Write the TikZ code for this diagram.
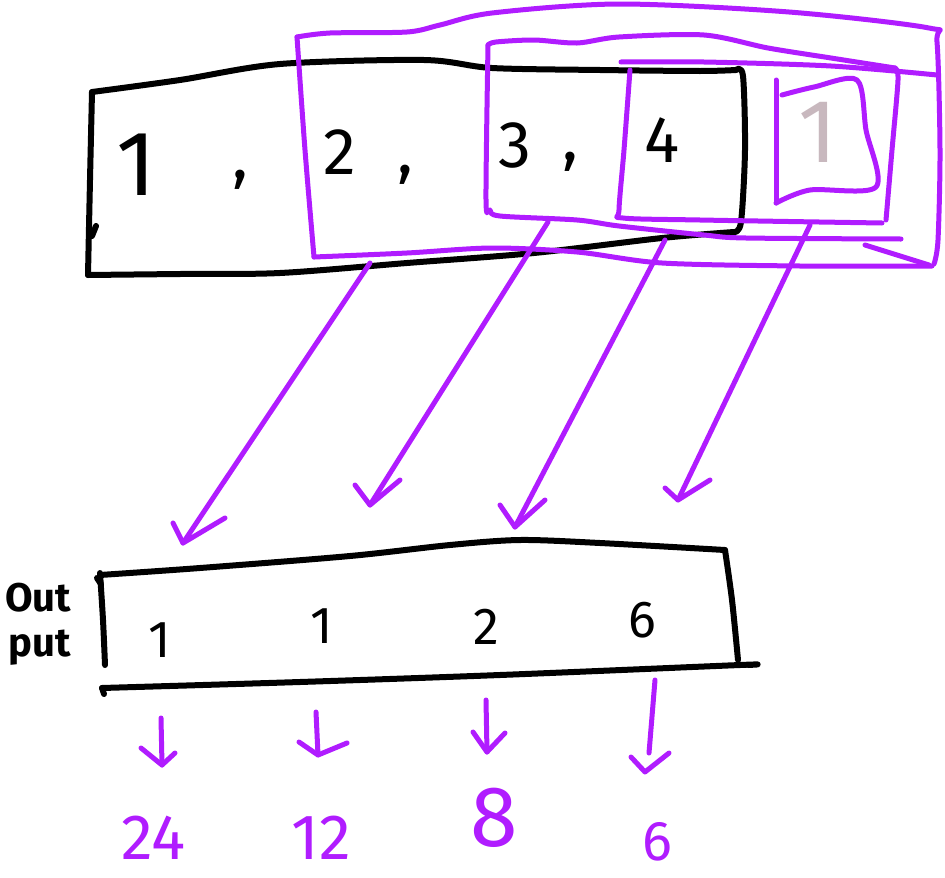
\documentclass[tikz,border=0pt]{standalone}
\usepackage{fontspec}
\setmainfont{Fira Sans}
\definecolor{pp}{RGB}{176,28,255}
\definecolor{pale}{RGB}{200,184,190}
\begin{document}
\begin{tikzpicture}[x=1pt,y=-1pt,line cap=round,line join=round,
  blk/.style={draw=black,line width=6pt},
  pur/.style={draw=pp,line width=5pt},
  bigdig/.style={inner sep=0pt,font=\fontsize{66}{66}\selectfont},
  outdig/.style={inner sep=0pt,font=\fontsize{52}{52}\selectfont},
  resdig/.style={inner sep=0pt,text=pp,font=\fontsize{64}{64}\selectfont},
  lbl/.style={inner sep=0pt,font=\fontsize{40}{40}\selectfont\bfseries}]
\useasboundingbox (0,0) rectangle (945,878);
\fill[white] (0,0) rectangle (945,878);

% ---------- input box (black)
\draw[blk] plot[smooth] coordinates {(92,92)(180,80)(280,64)(424,60)(492,68)(600,70)(700,71)(736,70)};
\draw[blk] plot[smooth] coordinates {(736,70)(743,76)(745,150)(741,222)(734,232)};
\draw[blk] plot[smooth] coordinates {(734,232)(662,238)(534,253)(407,263)(280,273)(180,274)(88,275)};
\draw[blk] plot[smooth] coordinates {(92,92)(90,180)(88,275)};
\draw[blk] (96,226) -- (92,236);

% input texts
\node[inner sep=0pt,font=\fontsize{92}{92}\selectfont] (i1) at (136,165) {1};
\node[bigdig] (c1) at (240,180) {,};
\node[bigdig] (i2) at (340,152) {2};
\node[bigdig] (c2) at (405,175) {,};
\node[bigdig] (i3) at (515,145) {3};
\node[bigdig] (c3) at (570,162) {,};
\node[bigdig] (i4) at (662,140) {4};
\node[inner sep=0pt,text=pale,font=\fontsize{90}{90}\selectfont] (i5) at (818,132) {1};

% ---------- purple boxes
% outer
\draw[pur] plot[smooth] coordinates {(297,37)(330,33)(407,32)(440,25)(492,13)(619,4)(789,12)(929,28)(937,42)(940,150)(938,240)(934,264)};
\draw[pur] plot[smooth] coordinates {(297,37)(305,150)(314,257)};
\draw[pur] plot[smooth] coordinates {(314,257)(407,253)(492,248)(577,252)(662,263)(800,266)(932,266)};
\draw[pur] (865,245) -- (929,265);
% box around 3,4,1
\draw[pur] plot[smooth] coordinates {(488,45)(496,42)(534,40)(577,43)(619,37)(704,35)(768,48)(831,58)(895,68)};
\draw[pur] plot[smooth] coordinates {(488,45)(486,200)(490,210)(500,216)(577,220)(619,226)(704,235)(746,238)(901,239)};
\draw[pur] plot[smooth] coordinates {(895,68)(898,80)(892,150)(886,220)};
% box around 4,1
\draw[pur] plot[smooth] coordinates {(621,62)(704,62)(831,66)(937,75)};
\draw[pur] plot[smooth] coordinates {(630,70)(624,150)(619,210)(623,218)(700,220)(882,223)};
% inner box around pale 1
\draw[pur] plot[smooth] coordinates {(776,80)(776,150)(776,203)};
\draw[pur] plot[smooth] coordinates {(782,95)(814,87)(857,80)(866,130)(876,187)(810,190)(776,203)};

% ---------- purple arrows top -> output
\coordinate (a1s) at (370,263); \coordinate (a1e) at (183,543);
\coordinate (a2s) at (548,222); \coordinate (a2e) at (370,505);
\coordinate (a3s) at (665,240); \coordinate (a3e) at (515,527);
\coordinate (a4s) at (810,225); \coordinate (a4e) at (678,500);
\draw[pur] (a1s) -- (a1e);
\draw[pur] (a1e) ++(-10,-20) -- (a1e) -- ++(42,-25);
\draw[pur] (a2s) -- (a2e);
\draw[pur] (a2e) ++(-15,-20) -- (a2e) -- ++(30,-25);
\draw[pur] (a3s) -- (a3e);
\draw[pur] (a3e) ++(-15,-22) -- (a3e) -- ++(30,-27);
\draw[pur] (a4s) -- (a4e);
\draw[pur] (a4e) ++(-13,-12) -- (a4e) -- ++(32,-20);

% ---------- output box
\draw[blk] plot[smooth] coordinates {(100,575)(200,568)(350,556)(450,545)(520,540)(600,543)(725,550)};
\draw[blk] plot[smooth] coordinates {(725,550)(732,600)(738,660)};
\draw[blk] plot[smooth] coordinates {(102,688)(300,682)(500,675)(740,665)(748,665)};
\draw[blk] plot[smooth] coordinates {(100,573)(103,620)(105,665)};
\draw[blk] (97,578) -- (101,584);
\draw[blk] (102,688) -- (104,694);

\node[lbl] (lo) at (38,598) {Out};
\node[lbl] (lp) at (40,648) {put};

\node[outdig] (o1) at (160,640) {1};
\node[outdig] (o2) at (322,626) {1};
\node[outdig] (o3) at (486,627) {2};
\node[outdig] (o4) at (642,620) {6};

% ---------- down arrows and results
\coordinate (b1s) at (161,718); \coordinate (b1e) at (162,765);
\coordinate (b2s) at (316,712); \coordinate (b2e) at (318,755);
\coordinate (b3s) at (486,700); \coordinate (b3e) at (487,752);
\coordinate (b4s) at (655,680); \coordinate (b4e) at (645,772);
\draw[pur] (b1s) -- (b1e);
\draw[pur] (b1e) ++(-21,-17) -- (b1e) -- ++(13,-12);
\draw[pur] (b2s) -- (b2e);
\draw[pur] (b2e) ++(-19,-13) -- (b2e) -- ++(29,-12);
\draw[pur] (b3s) -- (b3e);
\draw[pur] (b3e) ++(-14,-20) -- (b3e) -- ++(18,-19);
\draw[pur] (b4s) -- (649,753);
\draw[pur] (b4e) ++(-14,-15) -- (b4e) -- ++(24,-19);

\node[resdig] (r1) at (153,838) {24};
\node[resdig] (r2) at (321,838) {12};
\node[resdig,font=\fontsize{86}{86}\selectfont] (r3) at (494,818) {8};
\node[resdig,font=\fontsize{56}{56}\selectfont] (r4) at (657,842) {6};
\end{tikzpicture}
\end{document}
